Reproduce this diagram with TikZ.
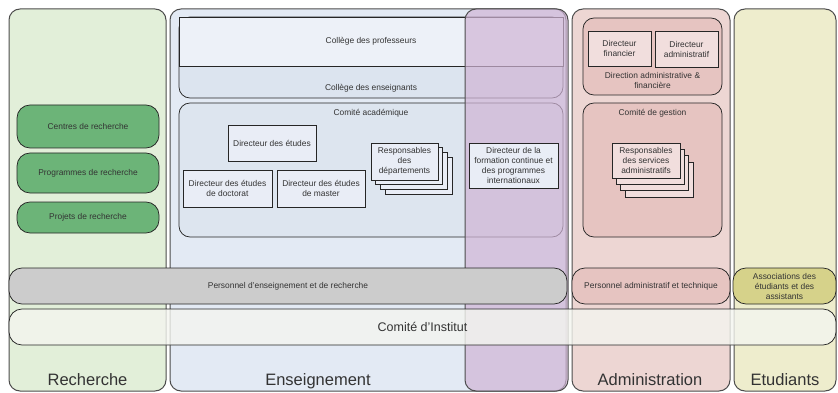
\documentclass[tikz,border=0pt]{standalone}
\usepackage{fontspec}
\setmainfont{Liberation Sans}
\usetikzlibrary{positioning}

\definecolor{txtgray}{HTML}{333333}
\definecolor{recbg}{HTML}{E2EFD9}
\definecolor{recgreen}{HTML}{6CB478}
\definecolor{ensbg}{HTML}{E3EAF4}
\definecolor{cprofbg}{HTML}{EDF1F8}
\definecolor{censbg}{HTML}{DCE4EF}
\definecolor{cacbg}{HTML}{DDE5EF}
\definecolor{boxblue}{HTML}{E9EDF6}
\definecolor{fcpurple}{HTML}{D0B4D5}
\definecolor{admbg}{HTML}{EDD6D3}
\definecolor{admgroup}{HTML}{E6C4C1}
\definecolor{admbox}{HTML}{F1DEDD}
\definecolor{etubg}{HTML}{EEEDCD}
\definecolor{assocol}{HTML}{D6D28A}
\definecolor{bargray}{HTML}{CCCCCC}
\definecolor{instwhite}{HTML}{F4F5EF}

\begin{document}
\begin{tikzpicture}[
        x=1pt, y=-1pt,
        every node/.style={
            font=\fontsize{8.4}{10}\selectfont,
            text=txtgray,
            inner sep=1pt
        },
        column/.style={draw=black!70, line width=1pt, rounded corners=11pt, inner sep=0pt, minimum height=382pt},
        group/.style={draw=black!85, line width=0.75pt, rounded corners=11pt, inner sep=0pt},
        box/.style={draw=black!85, line width=0.75pt, fill=boxblue, align=center, inner sep=0pt},
        pill/.style={draw=black!85, line width=0.75pt, rounded corners=13pt, align=center},
        heading/.style={font=\fontsize{16.5}{18}\selectfont, anchor=base}
    ]
    \useasboundingbox (0,0) rectangle (838,393);

    % Columns
    \node (rec) [column, fill=recbg, minimum width=157pt] at (87.5,200) {};
    \node (ens) [column, fill=ensbg, minimum width=396pt] at (368,200) {};
    \node (adm) [column, fill=admbg, minimum width=158pt] at (651,200) {};
    \node (etu) [column, fill=etubg, minimum width=102pt] at (785,200) {};

    \node (reclabel) [heading] at (87.5,385) {Recherche};
    \node (enslabel) [heading] at (318,385) {Enseignement};
    \node (admlabel) [heading] at (650,385) {Administration};
    \node (etulabel) [heading] at (785,385) {Etudiants};

    % Recherche
    \node (centres) [pill, fill=recgreen, minimum width=142pt, minimum height=43pt] at (88,126.5) {Centres de recherche};
    \node (programmes) [pill, fill=recgreen, minimum width=142pt, minimum height=40pt] at (88,173) {Programmes de recherche};
    \node (projets) [pill, fill=recgreen, minimum width=142pt, minimum height=31pt] at (88,217.5) {Projets de recherche};

    % Enseignement
    \node (cens) [group, fill=censbg, minimum width=384pt, minimum height=81pt] at (371,57.5) {};
    \node (censtext) [above=5pt of cens.south] {Collège des enseignants};
    \node (cprof) [box, fill=cprofbg, minimum width=384pt, minimum height=49pt] at (371,41.5) {Collège des professeurs};

    \node (cac) [group, fill=cacbg, minimum width=384pt, minimum height=134pt] at (371,170) {};
    \node (cactext) [below=5pt of cac.north] {Comité académique};
    \node (detudes) [box, minimum width=88pt, minimum height=36pt] at (272,143) {Directeur des études};
    \node (ddoc) [box, minimum width=89pt, minimum height=37pt] at (227.5,188.5) {Directeur des études\\de doctorat};
    \node (dmas) [box, minimum width=88pt, minimum height=37pt] at (321,188.5) {Directeur des études\\de master};
    \node (rdep3) [box, minimum width=67pt, minimum height=37pt] at (418.5,175.5) {};
    \node (rdep2) [box, minimum width=67pt, minimum height=37pt] at (413.8,170.8) {};
    \node (rdep1) [box, minimum width=67pt, minimum height=37pt] at (409.2,166.2) {};
    \node (rdep) [box, minimum width=67pt, minimum height=37pt] at (404.5,161.5) {Responsables\\des\\départements};

    % Formation continue
    \node (fc) [column, fill=fcpurple, fill opacity=0.7, minimum width=103pt] at (516.5,200) {};
    \node (dfc) [box, minimum width=89pt, minimum height=45pt] at (513.5,165.5) {Directeur de la\\formation continue et\\des programmes\\internationaux};

    % Administration
    \node (daf) [group, fill=admgroup, minimum width=139pt, minimum height=77pt] at (652.5,56.5) {};
    \node (daftext) [above=6pt of daf.south, align=center] {Direction administrative \&\\financière};
    \node (dfin) [box, fill=admbox, minimum width=63pt, minimum height=35pt] at (619.5,48.5) {Directeur\\financier};
    \node (dadm) [box, fill=admbox, minimum width=63pt, minimum height=36pt] at (686.5,49) {Directeur\\administratif};

    \node (cdg) [group, fill=admgroup, minimum width=139pt, minimum height=134pt] at (652.5,170) {};
    \node (cdgtext) [below=5pt of cdg.north] {Comité de gestion};
    \node (rsa3) [box, fill=admbox, minimum width=68pt, minimum height=35pt] at (659,179.5) {};
    \node (rsa2) [box, fill=admbox, minimum width=68pt, minimum height=35pt] at (654.7,173.2) {};
    \node (rsa1) [box, fill=admbox, minimum width=68pt, minimum height=35pt] at (650.3,166.8) {};
    \node (rsa) [box, fill=admbox, minimum width=68pt, minimum height=35pt] at (646,160.5) {Responsables\\des services\\administratifs};

    % Bottom Rows
    \node (pens) [pill, fill=bargray, minimum width=558pt, minimum height=36pt] at (288,286) {Personnel d’enseignement et de recherche};
    \node (padm) [pill, fill=admgroup, minimum width=158pt, minimum height=36pt] at (651,286) {Personnel administratif et technique};
    \node (assoc) [pill, fill=assocol, minimum width=103pt, minimum height=36pt] at (784.5,286) {Associations des\\étudiants et des\\assistants};
    \node (cinst) [pill, fill=instwhite, fill opacity=0.8, text opacity=1, minimum width=827pt, minimum height=36pt, font=\fontsize{12.5}{14}\selectfont] at (422.5,327) {Comité d’Institut};

    \end{tikzpicture}
\end{document}
